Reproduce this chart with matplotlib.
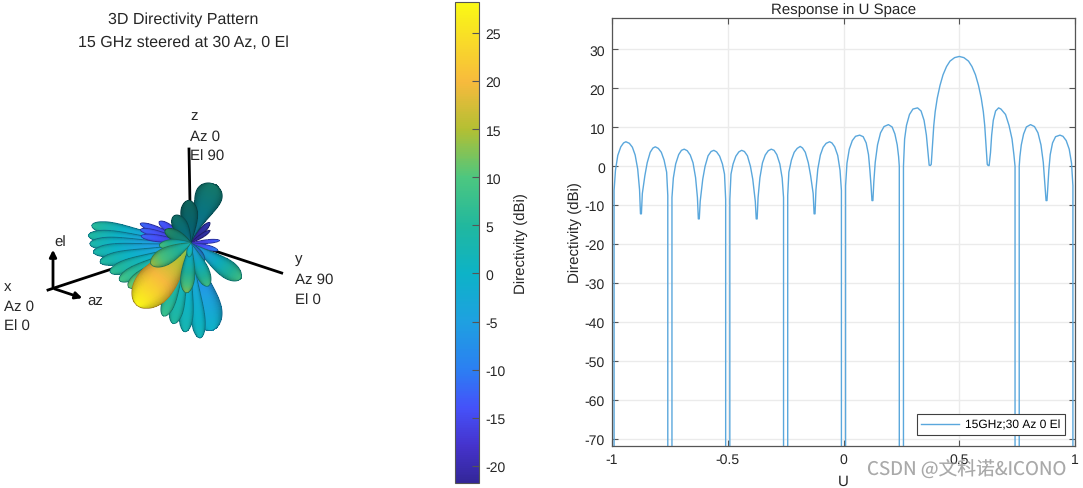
# -*- coding: utf-8 -*-
# 3D directivity pattern + U space response (phased array plots)

import numpy as np
import matplotlib
matplotlib.use('Agg')
import matplotlib.pyplot as plt
from matplotlib.cm import ScalarMappable
from matplotlib.colors import LinearSegmentedColormap, Normalize

plt.rcParams['font.family'] = ['Liberation Sans', 'DejaVu Sans']
plt.rcParams['axes.unicode_minus'] = False
plt.rcParams['text.hinting'] = 'no_hinting'
plt.rcParams['text.hinting_factor'] = 1

# %% Data

# U space cut, one line per lobe
u_vals = [-1.0, -.991, -.991, -.985, -.975, -.962, -.95, -.94, -.925, -.912, -.9, -.889, -.881, -.877, -.873,
          -.869, -.858, -.848, -.835, -.823, -.813, -.8, -.787, -.775, -.764, -.759, -.759,
          -.741, -.741, -.735, -.725, -.712, -.7, -.688, -.675, -.662, -.65, -.639, -.631, -.627, -.623,
          -.619, -.608, -.598, -.585, -.572, -.56, -.548, -.535, -.523, -.514, -.509, -.509,
          -.491, -.491, -.486, -.477, -.465, -.452, -.44, -.428, -.415, -.402, -.392, -.381, -.377, -.373,
          -.369, -.361, -.35, -.338, -.325, -.312, -.3, -.288, -.275, -.265, -.259, -.259,
          -.241, -.241, -.236, -.225, -.213, -.2, -.187, -.177, -.165, -.152, -.142, -.131, -.127, -.123,
          -.119, -.111, -.1, -.088, -.075, -.06, -.05, -.038, -.025, -.015, -.009, -.009,
          .009, .009, .015, .025, .038, .052, .07, .085, .098, .108, .114, .119, .123, .127,
          .131, .137, .147, .16, .175, .194, .21, .222, .232, .238, .241, .241,
          .259, .259, .264, .272, .285, .3, .32, .335, .348, .358, .365, .37, .375,
          .379, .384, .39, .396, .405, .417, .43, .445, .46, .48, .5, .52, .54, .555, .57, .583, .595, .604, .61, .616, .621, .625,
          .629, .635, .64, .647, .657, .67, .68, .7, .715, .728, .736, .741, .741,
          .759, .759, .762, .768, .778, .79, .808, .825, .84, .853, .863, .869, .875, .879,
          .883, .887, .893, .903, .916, .935, .948, .962, .975, .985, .991, .991, 1.0]
dbi_vals = [-100, -100, -6.2, -1, 2.8, 5, 6, 6.3, 5.9, 4.9, 2.9, -.7, -6, -12.2, -12.2,
            -7, -2.4, .9, 3.6, 4.7, 5, 4.6, 3.6, 1.6, -1.5, -7.5, -100,
            -100, -8, -3, .6, 3, 4.1, 4.4, 4, 2.9, .9, -2.9, -8, -13.5, -13.5,
            -9, -3.3, 0, 2.7, 3.8, 4.1, 3.7, 2.6, .6, -2, -8.5, -100,
            -100, -8.5, -2, .6, 2.6, 3.7, 4.1, 3.8, 2.7, 0, -3.3, -9, -13.5, -13.5,
            -8, -2.9, .9, 2.9, 4, 4.4, 4.1, 3, .6, -3, -8, -100,
            -100, -7.5, -1.5, 1.6, 3.6, 4.6, 5.1, 4.7, 3.6, .9, -2.4, -7, -12.2, -12.2,
            -6, -.7, 2.9, 4.9, 5.9, 6.3, 6, 5, 2.8, -1, -6.2, -100,
            -100, -5, .8, 4.4, 6.6, 7.7, 8, 7.6, 6, 3, -1, -5, -8.8, -8.8,
            -4, 1, 5.5, 8.6, 10.2, 10.7, 10.1, 8.3, 5.5, 2.5, 0, -100,
            -100, 0, 7, 10.5, 13.3, 14.7, 15, 14.2, 11.8, 8, 3.5, .3, .2,
            .5, 5, 10.5, 14, 17.5, 20.8, 23.5, 25.6, 27, 27.9, 28.2, 27.9, 27, 25.6, 23.5, 20.8, 17.5, 14, 10.5, 5, .5, .2,
            .2, 3.5, 8, 11.8, 14.2, 15, 14.7, 13.3, 10.5, 7, 3, 0, -100,
            -100, 0, 2.5, 5.5, 8.3, 10.1, 10.7, 10.2, 8.6, 5.5, 1, -4, -8.8, -8.8,
            -5, -1, 3, 6, 7.6, 8, 7.7, 6.6, 4.4, .8, -5, -100, -100]

u_ticks = [-1, -0.5, 0, 0.5, 1]
u_ticklabels = ['-1', '-0.5', '0', '0.5', '1']
dbi_ticks = [-70, -60, -50, -40, -30, -20, -10, 0, 10, 20, 30]
cbar_ticks = [-20, -15, -10, -5, 0, 5, 10, 15, 20, 25]
dbi_min = -21.8
dbi_max = 28.3

# Lobes of the 3D pattern as seen on screen, drawn back to front
# direction in degrees, radius in px, peak and base directivity, brightness
lobe_dir = [47, 33, 5, 345,
            169.9, 175.7, 180.4, 185.3, 191.8, 199.8, 207.6, 215.2,
            159, 165, 172, 146,
            283.5, 275.6, 266.4, 257.9, 249.6,
            69, 93, 121, 153.7,
            229,
            324.5, 304, 292, 265, 263, 184.5, 208]
lobe_radius = [28, 23, 29, 28,
               100.6, 102.6, 101, 97.7, 92.6, 85.7, 80.5, 76.3,
               54, 52, 50, 38,
               90, 95.5, 89, 82.5, 78,
               63.5, 42.7, 32, 28.6,
               82.5,
               61.4, 23, 46.5, 50, 14, 31.5, 45]
lobe_width = [6, 4, 4, 5,
              13, 13, 13, 13, 13, 13, 13, 14,
              7, 7, 7, 8,
              30, 14, 14, 14, 13,
              27, 17, 15, 11,
              38,
              18, 9, 14, 14, 6, 10, 17]
lobe_skew = [1.5, 1.5, 1.5, 1.5,
             3, 3, 3, 3, 3, 3, 3, 3,
             2, 2, 2, 2,
             2.5, 3, 3, 3, 3,
             3, 1.8, 1.6, 1.4,
             1.7,
             2.2, 1.5, 1.8, 1.8, 1.2, 1.4, 1.6]
lobe_peak = [-14, -15, -12, -9,
             6, 5, 4, 4, 5, 7, 9, 12,
             -12, -12, -12, -13,
             0, 2, 3, 5, 8,
             5, 4, 4, 8,
             28,
             9, -4, 9, 13, 6, 10, 14]
lobe_base = [-18, -18, -18, -18,
             -10, -10, -10, -10, -8, -6, -4, -2,
             -18, -18, -18, -18,
             -11, -6, -4, -2, -2,
             -4, -2, -2, 2,
             12,
             -8, -12, -6, -4, -4, -2, 2]
lobe_light = [.7, .7, 1, 1,
              1, 1, 1, 1, 1, 1, 1, 1,
              1, 1, 1, 1,
              1, 1, 1, 1, 1,
              .65, .55, .6, .7,
              1,
              .95, .85, .95, .95, 1, .95, .95]

# Parula style colour scale, anchors in dBi
scale_dbi = [-21.8, -18, -14, -10, -5, 0, 5, 10, 15, 20, 28.3]
scale_rgb = [(.20, .15, .60), (.27, .20, .80), (.27, .32, .98), (.17, .50, .95),
             (.12, .63, .88), (.05, .70, .78), (.13, .72, .62), (.30, .78, .50),
             (.70, .75, .20), (.97, .73, .24), (.98, .98, .08)]

# %% Set-up

norm = Normalize(dbi_min, dbi_max)
cmap = LinearSegmentedColormap.from_list('parula', [(float(norm(d)), c) for d, c in zip(scale_dbi, scale_rgb)], N = 256)
textCol = '#262626'
boxCol = '#555555'

fig = plt.figure(figsize = (10.83, 4.89), dpi = 100)

# %% Left hand side, the pattern (axes in picture pixels)

axPat = fig.add_axes([0, 0, 360 / 1083, 1])
axPat.set_xlim(0, 360)
axPat.set_ylim(489, 0)
axPat.axis('off')

hub = (190.7, 244)

# Coordinate frame behind the pattern
axPat.plot([hub[0], 189], [hub[1], 150], color = 'k', lw = 2, zorder = 1)
axPat.plot([hub[0], 281.7], [hub[1], 274], color = 'k', lw = 2, zorder = 1)
axPat.plot([hub[0], 48], [hub[1], 291], color = 'k', lw = 2, zorder = 1)
axPat.annotate('', xy = (53, 248), xytext = (53, 291),
               arrowprops = dict(arrowstyle = '-|>', color = 'k', lw = 2, mutation_scale = 10))
axPat.annotate('', xy = (85, 300), xytext = (52, 289),
               arrowprops = dict(arrowstyle = '-|>', color = 'k', lw = 2, mutation_scale = 10))

# One mesh per lobe, widest towards the far end
s = np.linspace(0, 1, 120)
q = np.linspace(-1, 1, 60)
S, Q = np.meshgrid(s, q)
for ii in range(len(lobe_dir)):
    ang = np.deg2rad(lobe_dir[ii])
    axisVec = np.array([np.cos(ang), -np.sin(ang)])
    normVec = np.array([np.sin(ang), np.cos(ang)])
    halfW = 0.5 * lobe_width[ii] * np.sin(np.pi * S**lobe_skew[ii])**0.5
    along = S * lobe_radius[ii]
    X = hub[0] + along * axisVec[0] + Q * halfW * normVec[0]
    Y = hub[1] + along * axisVec[1] + Q * halfW * normVec[1]
    val = lobe_base[ii] + (lobe_peak[ii] - lobe_base[ii]) * S**1.2
    rgba = cmap(norm(val))
    shade = lobe_light[ii] * (1 - 0.28 * np.abs(Q)**3)
    rgba[..., :3] = rgba[..., :3] * shade[..., None]
    axPat.pcolormesh(X, Y, rgba[:-1, :-1], shading = 'flat', antialiased = False,
                     linewidth = 0, zorder = 2 + 2 * ii)
    # Soft edge so the lobe does not look jagged
    edgeCol = tuple(rgba[0, 70, :3] * 0.9)
    axPat.plot(X[0, :], Y[0, :], color = edgeCol, lw = 0.5, zorder = 3 + 2 * ii)
    axPat.plot(X[-1, :], Y[-1, :], color = edgeCol, lw = 0.5, zorder = 3 + 2 * ii)

# Frame labels
for x, y, txt in zip([190, 190, 190, 4, 4, 4, 295, 295, 295, 54, 87],
                     [116, 137, 157, 287, 307, 327, 260, 280, 301, 243, 301],
                     ['z', 'Az 0', 'El 90', 'x', 'Az 0', 'El 0', 'y', 'Az 90', 'El 0', 'el', 'az']):
    axPat.text(x, y, txt, fontsize = 10.5, color = textCol, ha = 'left', va = 'center', zorder = 90)

fig.text(183 / 1083, 1 - 20 / 489, '3D Directivity Pattern', fontsize = 11.5,
         color = textCol, ha = 'center', va = 'center')
fig.text(183 / 1083, 1 - 43 / 489, '15 GHz steered at 30 Az, 0 El', fontsize = 11.5,
         color = textCol, ha = 'center', va = 'center')

# %% Colourbar

cax = fig.add_axes([455.3 / 1083, 1 - 484 / 489, 23.4 / 1083, 481.5 / 489])
cbar = fig.colorbar(ScalarMappable(norm = norm, cmap = cmap), cax = cax)
cbar.set_ticks(cbar_ticks)
cbar.ax.tick_params(direction = 'in', length = 5, width = 0.8, color = boxCol,
                    labelcolor = textCol, labelsize = 10, pad = 5)
cbar.outline.set_edgecolor(boxCol)
cbar.outline.set_linewidth(0.8)
cbar.set_label('Directivity (dBi)', fontsize = 10.5, color = textCol, labelpad = 6)

# %% Right hand side, the U space cut

ax = fig.add_axes([612 / 1083, 1 - 447 / 489, 463 / 1083, 428.5 / 489])
ax.plot(u_vals, dbi_vals, color = '#5aa7dc', lw = 1, label = '15GHz;30 Az 0 El')
ax.set_xlim(-1, 1)
ax.set_ylim(-71.8, 38.2)
ax.set_xticks(u_ticks)
ax.set_xticklabels(u_ticklabels)
ax.set_yticks(dbi_ticks)
ax.grid(True, color = '#ebebeb', lw = 1)
ax.set_axisbelow(True)
ax.tick_params(direction = 'in', length = 4, width = 0.8, color = boxCol, top = True, right = True,
               labelcolor = textCol, labelsize = 10, pad = 5)
for sp in ax.spines.values():
    sp.set_color(boxCol)
    sp.set_linewidth(0.9)
ax.set_title('Response in U Space', fontsize = 10.5, color = textCol, pad = 3)
ax.set_xlabel('U', fontsize = 11, color = textCol, labelpad = 6)
ax.set_ylabel('Directivity (dBi)', fontsize = 10.5, color = textCol, labelpad = 2)
leg = ax.legend(loc = 'lower right', bbox_to_anchor = (1065 / 1083, 1 - 436 / 489), frameon = True, fancybox = False,
                bbox_transform = fig.transFigure, fontsize = 8.5, borderpad = 0.4, handlelength = 3.2,
                handletextpad = 0.5, framealpha = 1, borderaxespad = 0)
leg.get_frame().set_edgecolor('#404040')
leg.get_frame().set_linewidth(0.8)

# Watermark of the source page
fig.text(967 / 1083, 1 - 469 / 489, 'CSDN @文科诺&ICONO', fontsize = 13.5, color = '#8c8c8c', alpha = 0.75,
         family = ['Noto Sans CJK SC', 'DejaVu Sans'], ha = 'center', va = 'center')

# %% Save

plt.savefig('out.png', dpi = 100, facecolor = 'w')
plt.close()
